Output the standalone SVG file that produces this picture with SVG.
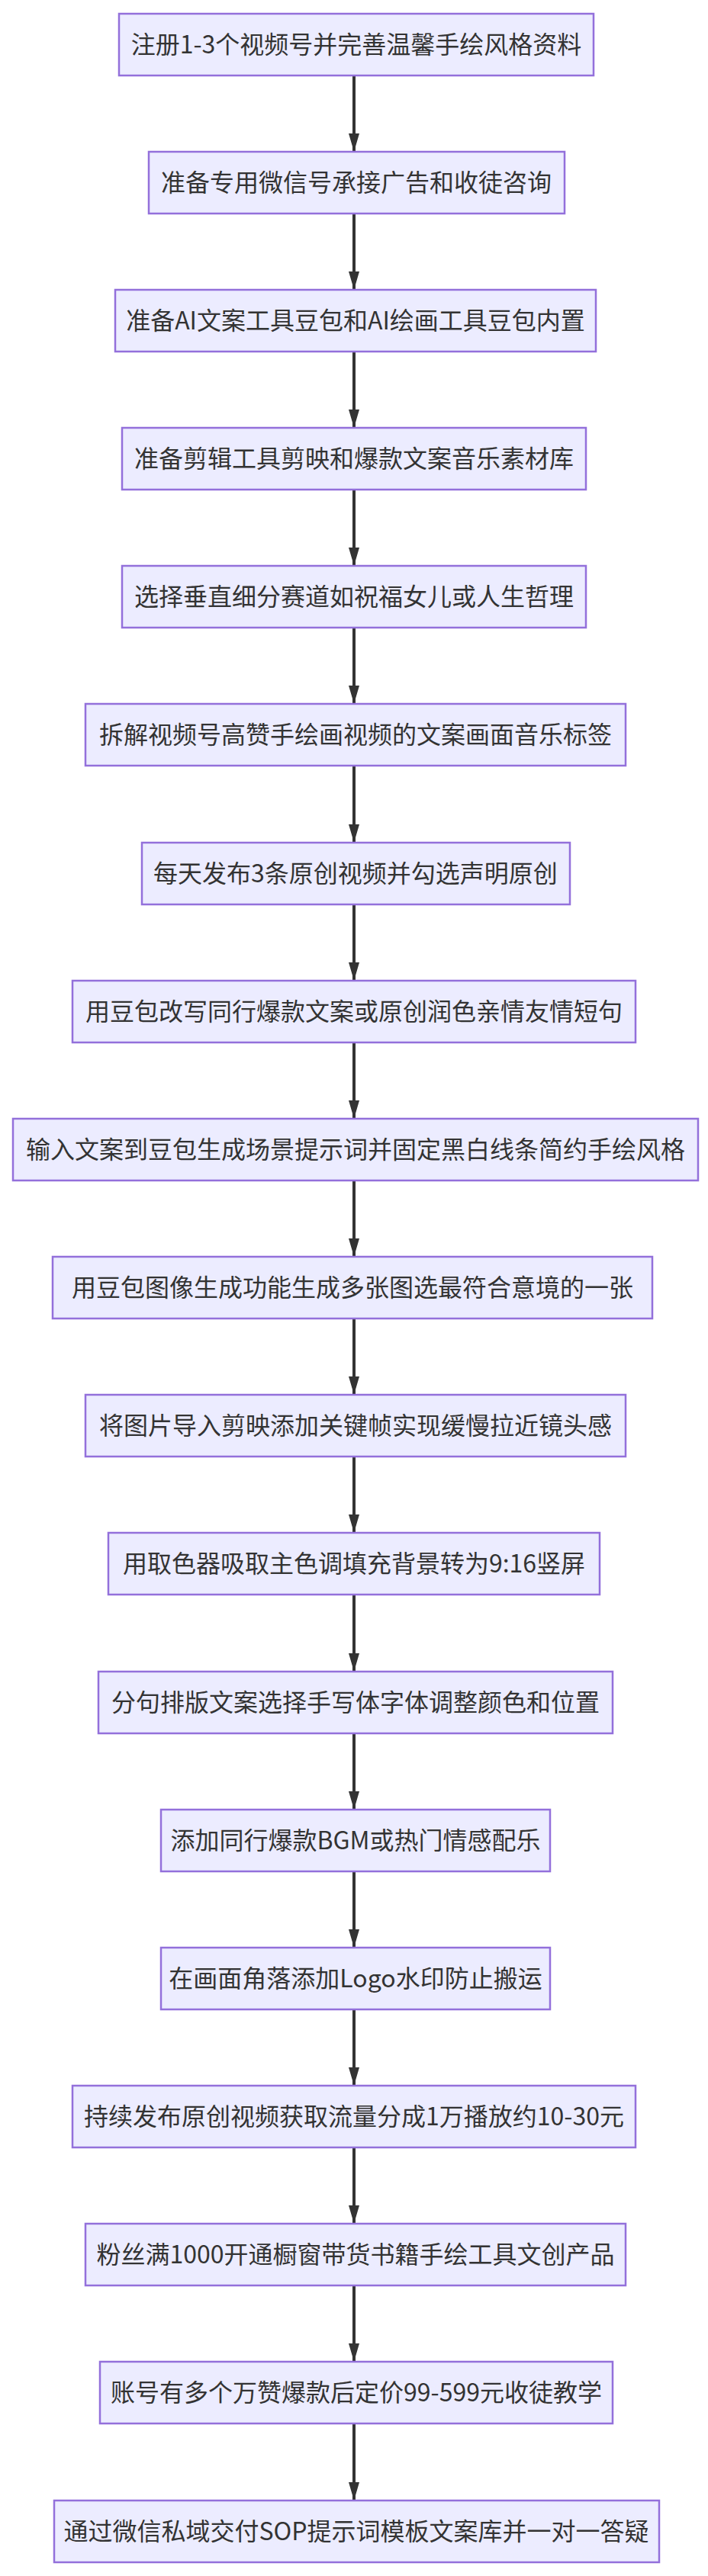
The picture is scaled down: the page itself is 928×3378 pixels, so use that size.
<svg xmlns="http://www.w3.org/2000/svg" width="928" height="3378" viewBox="0 0 928 3378">
<style>
.n rect{fill:#ECECFF;stroke:#9370DB;stroke-width:2.5}
.n text{font-family:"Noto Sans CJK SC","Liberation Sans",sans-serif;font-size:32px;fill:#333;text-anchor:middle}
.e line{stroke:#333;stroke-width:4}
</style>
<defs><marker id="a" markerWidth="14" markerHeight="24" refX="7" refY="24" markerUnits="userSpaceOnUse" orient="auto-start-reverse" viewBox="0 0 14 24"><path d="M0,0L14,0L7,24Z" fill="#333" transform="rotate(0)"/></marker>
<marker id="b" viewBox="0 0 24 14" refX="24" refY="7" markerWidth="24" markerHeight="14" markerUnits="userSpaceOnUse" orient="auto"><path d="M0,0L24,7L0,14Z" fill="#333"/></marker></defs>
<rect width="928" height="3378" fill="#fff"/>
<g id="edges" class="e">
<line x1="464" y1="99" x2="464" y2="199" marker-end="url(#b)"/>
<line x1="464" y1="280" x2="464" y2="380" marker-end="url(#b)"/>
<line x1="464" y1="461" x2="464" y2="561" marker-end="url(#b)"/>
<line x1="464" y1="642" x2="464" y2="742" marker-end="url(#b)"/>
<line x1="464" y1="823" x2="464" y2="923" marker-end="url(#b)"/>
<line x1="464" y1="1004" x2="464" y2="1105" marker-end="url(#b)"/>
<line x1="464" y1="1186" x2="464" y2="1286" marker-end="url(#b)"/>
<line x1="464" y1="1367" x2="464" y2="1467" marker-end="url(#b)"/>
<line x1="464" y1="1548" x2="464" y2="1648" marker-end="url(#b)"/>
<line x1="464" y1="1729" x2="464" y2="1829" marker-end="url(#b)"/>
<line x1="464" y1="1910" x2="464" y2="2010" marker-end="url(#b)"/>
<line x1="464" y1="2091" x2="464" y2="2192" marker-end="url(#b)"/>
<line x1="464" y1="2273" x2="464" y2="2373" marker-end="url(#b)"/>
<line x1="464" y1="2454" x2="464" y2="2554" marker-end="url(#b)"/>
<line x1="464" y1="2635" x2="464" y2="2735" marker-end="url(#b)"/>
<line x1="464" y1="2816" x2="464" y2="2916" marker-end="url(#b)"/>
<line x1="464" y1="2997" x2="464" y2="3097" marker-end="url(#b)"/>
<line x1="464" y1="3179" x2="464" y2="3279" marker-end="url(#b)"/>
</g>
<g id="n1" class="n"><rect x="156" y="18" width="622" height="81"/><text x="467" y="70">注册1-3个视频号并完善温馨手绘风格资料</text></g>
<g id="n2" class="n"><rect x="195" y="199" width="545" height="81"/><text x="467" y="251">准备专用微信号承接广告和收徒咨询</text></g>
<g id="n3" class="n"><rect x="151" y="380" width="630" height="81"/><text x="466" y="432">准备AI文案工具豆包和AI绘画工具豆包内置</text></g>
<g id="n4" class="n"><rect x="160" y="561" width="608" height="81"/><text x="464" y="613">准备剪辑工具剪映和爆款文案音乐素材库</text></g>
<g id="n5" class="n"><rect x="160" y="742" width="608" height="81"/><text x="464" y="794">选择垂直细分赛道如祝福女儿或人生哲理</text></g>
<g id="n6" class="n"><rect x="112" y="923" width="708" height="81"/><text x="466" y="975">拆解视频号高赞手绘画视频的文案画面音乐标签</text></g>
<g id="n7" class="n"><rect x="186" y="1105" width="561" height="81"/><text x="466" y="1157">每天发布3条原创视频并勾选声明原创</text></g>
<g id="n8" class="n"><rect x="95" y="1286" width="738" height="81"/><text x="464" y="1338">用豆包改写同行爆款文案或原创润色亲情友情短句</text></g>
<g id="n9" class="n"><rect x="17" y="1467" width="898" height="81"/><text x="466" y="1519">输入文案到豆包生成场景提示词并固定黑白线条简约手绘风格</text></g>
<g id="n10" class="n"><rect x="69" y="1648" width="786" height="81"/><text x="462" y="1700">用豆包图像生成功能生成多张图选最符合意境的一张</text></g>
<g id="n11" class="n"><rect x="112" y="1829" width="708" height="81"/><text x="466" y="1881">将图片导入剪映添加关键帧实现缓慢拉近镜头感</text></g>
<g id="n12" class="n"><rect x="142" y="2010" width="644" height="81"/><text x="464" y="2062">用取色器吸取主色调填充背景转为9:16竖屏</text></g>
<g id="n13" class="n"><rect x="129" y="2192" width="674" height="81"/><text x="466" y="2244">分句排版文案选择手写体字体调整颜色和位置</text></g>
<g id="n14" class="n"><rect x="211" y="2373" width="510" height="81"/><text x="466" y="2425">添加同行爆款BGM或热门情感配乐</text></g>
<g id="n15" class="n"><rect x="211" y="2554" width="510" height="81"/><text x="466" y="2606">在画面角落添加Logo水印防止搬运</text></g>
<g id="n16" class="n"><rect x="95" y="2735" width="738" height="81"/><text x="464" y="2787">持续发布原创视频获取流量分成1万播放约10-30元</text></g>
<g id="n17" class="n"><rect x="112" y="2916" width="708" height="81"/><text x="466" y="2968">粉丝满1000开通橱窗带货书籍手绘工具文创产品</text></g>
<g id="n18" class="n"><rect x="131" y="3097" width="672" height="81"/><text x="467" y="3149">账号有多个万赞爆款后定价99-599元收徒教学</text></g>
<g id="n19" class="n"><rect x="71" y="3279" width="793" height="81"/><text x="467" y="3331">通过微信私域交付SOP提示词模板文案库并一对一答疑</text></g>
</svg>
